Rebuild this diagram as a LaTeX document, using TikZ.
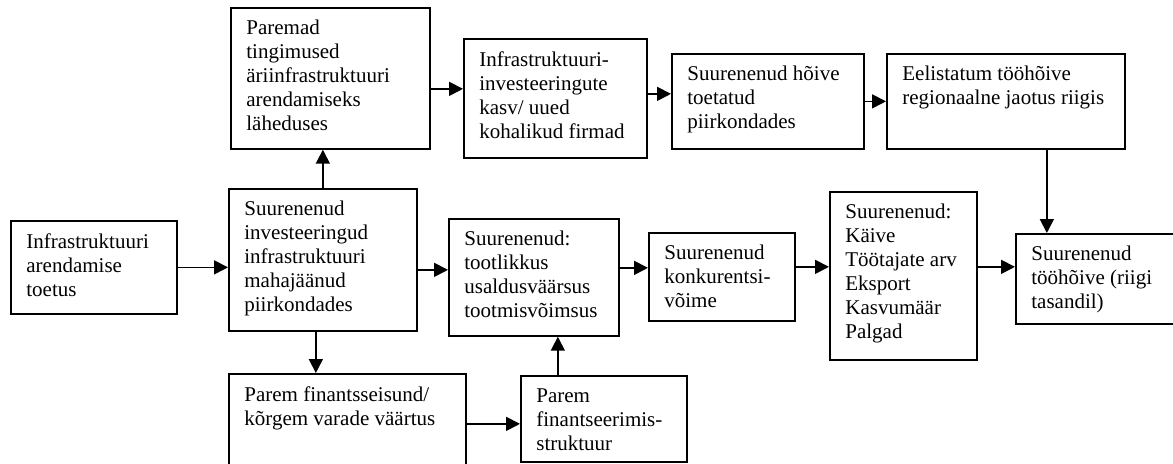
\documentclass[tikz,border=0pt]{standalone}
\usepackage{fontspec}
\setmainfont{Liberation Serif}
\usetikzlibrary{arrows.meta}

\begin{document}
\begin{tikzpicture}[
  x=0.5pt, y=-0.5pt,
  box/.style={draw, line width=0.85pt, anchor=north west, inner sep=0pt},
  txt/.style={anchor=north west, xshift=8pt, yshift=-6.5pt, inner sep=0pt,
              align=left, font=\fontsize{10.5}{12}\selectfont},
  arrow/.style={-{Triangle[length=7pt,width=7pt]}, line width=0.85pt}
]
  \useasboundingbox (0,0) rectangle (1173,463);
  \clip (0,0) rectangle (1173,463);

  \node[box, minimum width=83pt, minimum height=46.5pt,
        label={[txt]north west:{Infrastruktuuri\\arendamise\\toetus}}] (toetus) at (10,220) {};
  \node[box, minimum width=94pt, minimum height=71pt,
        label={[txt]north west:{Suurenenud\\investeeringud\\infrastruktuuri\\mahajäänud\\piirkondades}}] (invest) at (228,188) {};
  \node[box, minimum width=99.5pt, minimum height=70.5pt,
        label={[txt]north west:{Paremad\\tingimused\\äriinfrastruktuuri\\arendamiseks\\läheduses}}] (paremad) at (230,7) {};
  \node[box, minimum width=91.5pt, minimum height=59.5pt,
        label={[txt]north west:{Infrastruktuuri-\\investeeringute\\kasv/ uued\\kohalikud firmad}}] (infrainv) at (463,38) {};
  \node[box, minimum width=96pt, minimum height=47.5pt,
        label={[txt]north west:{Suurenenud hõive\\toetatud\\piirkondades}}] (hoive) at (671,53) {};
  \node[box, minimum width=119pt, minimum height=47.5pt,
        label={[txt]north west:{Eelistatum tööhõive\\regionaalne jaotus riigis}}] (eelist) at (886,53) {};
  \node[box, minimum width=85pt, minimum height=58.5pt,
        label={[txt]north west:{Suurenenud:\\tootlikkus\\usaldusväärsus\\tootmisvõimsus}}] (tootl) at (448,218) {};
  \node[box, minimum width=73pt, minimum height=44pt,
        label={[txt]north west:{Suurenenud\\konkurentsi-\\võime}}] (konk) at (648,232) {};
  \node[box, minimum width=73.5pt, minimum height=84pt,
        label={[txt]north west:{Suurenenud:\\Käive\\Töötajate arv\\Eksport\\Kasvumäär\\Palgad}}] (kaive) at (829,191) {};
  \node[box, minimum width=150pt, minimum height=45pt,
        label={[txt]north west:{Suurenenud\\tööhõive (riigi\\tasandil)}}] (riigi) at (1015,233) {};
  \node[box, minimum width=118.5pt, minimum height=55pt,
        label={[txt]north west:{Parem finantsseisund/\\kõrgem varade väärtus}}] (finseis) at (228,373) {};
  \node[box, minimum width=83pt, minimum height=43pt,
        label={[txt]north west:{Parem\\finantseerimis-\\struktuur}}] (finstr) at (520,375) {};

  \draw[arrow] (toetus.east) -- (toetus.east -| invest.west);
  \draw[arrow] (invest.north) -- (invest.north |- paremad.south);
  \draw[arrow] ([yshift=-5.25pt]paremad.east) -- ([yshift=-5.25pt]paremad.east -| infrainv.west);
  \draw[arrow] ([yshift=2.25pt]infrainv.east) -- ([yshift=2.25pt]infrainv.east -| hoive.west);
  \draw[arrow] (hoive.east) -- (hoive.east -| eelist.west);
  \draw[arrow] ([xshift=20.5pt]eelist.south) -- ([xshift=20.5pt]eelist.south |- riigi.north);
  \draw[arrow] ([yshift=-5pt]invest.east) -- ([yshift=-5pt]invest.east -| tootl.west);
  \draw[arrow] ([yshift=4.75pt]tootl.east) -- ([yshift=4.75pt]tootl.east -| konk.west);
  \draw[arrow] ([yshift=5pt]konk.east) -- ([yshift=5pt]konk.east -| kaive.west);
  \draw[arrow] ([yshift=4.5pt]kaive.east) -- ([yshift=4.5pt]kaive.east -| riigi.west);
  \draw[arrow] ([xshift=-3.5pt]invest.south) -- ([xshift=-3.5pt]invest.south |- finseis.north);
  \coordinate (fs) at ([yshift=-2.5pt]finstr.west);
  \draw[arrow] (fs -| finseis.east) -- (fs);
  \draw[arrow] ([xshift=-23pt]finstr.north) -- ([xshift=-23pt]finstr.north |- tootl.south);
\end{tikzpicture}
\end{document}
